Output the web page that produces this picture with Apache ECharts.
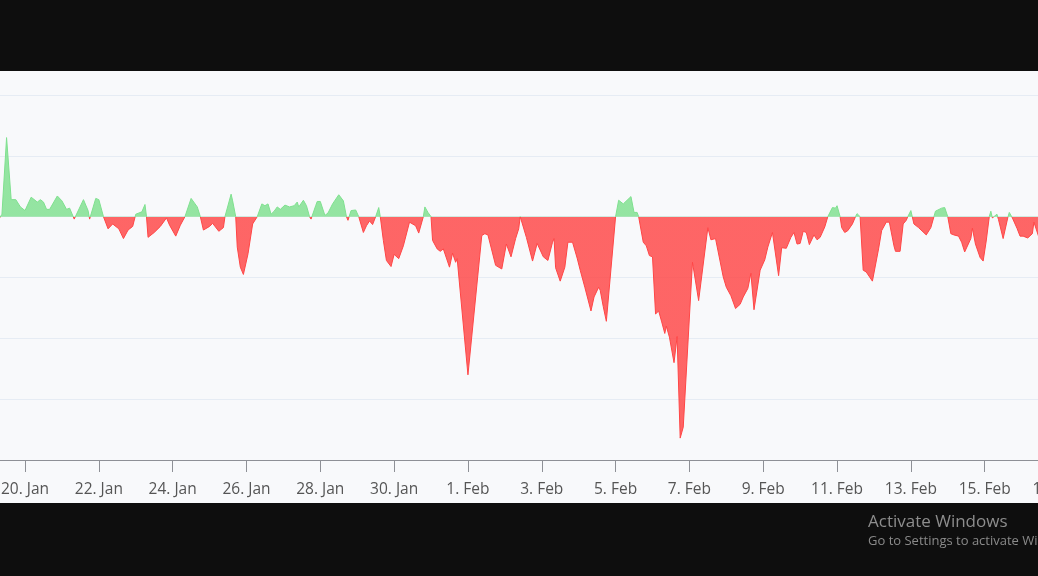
<!DOCTYPE html>
<html>
<head>
<meta charset="utf-8">
<script src="https://cdn.jsdelivr.net/npm/echarts@6/dist/echarts.min.js"></script>
<style>
html,body{margin:0;padding:0;background:#0e0e0e;}
#c{width:1038px;height:576px;}
</style>
</head>
<body>
<div id="c"></div>
<script>
const YEAR = 2024;
const MONTHS = ['Jan','Feb','Mar','Apr','May','Jun','Jul','Aug','Sep','Oct','Nov','Dec'];

const times = [
'01-19 07:00','01-19 09:00','01-19 12:00','01-19 15:00','01-19 18:00','01-19 21:00',
'01-20 00:00','01-20 04:00','01-20 08:00','01-20 10:00','01-20 12:00','01-20 14:00','01-20 16:00','01-20 21:00',
'01-21 00:00','01-21 03:00','01-21 05:00','01-21 08:00','01-21 14:00','01-21 17:00','01-21 18:00','01-21 22:00',
'01-22 00:00','01-22 03:00','01-22 06:00','01-22 09:00','01-22 13:00','01-22 16:00','01-22 19:00','01-22 22:00',
'01-23 00:00','01-23 04:00','01-23 06:00','01-23 07:00','01-23 08:00','01-23 12:00','01-23 16:00','01-23 20:00','01-23 22:00',
'01-24 02:00','01-24 05:00','01-24 08:00','01-24 12:00','01-24 16:00','01-24 18:00','01-24 20:00',
'01-25 00:00','01-25 02:00','01-25 06:00','01-25 09:00','01-25 10:00','01-25 14:00','01-25 15:00','01-25 17:00','01-25 18:00','01-25 20:00','01-25 22:00',
'01-26 01:00','01-26 04:00','01-26 07:00','01-26 10:00','01-26 12:00','01-26 14:00','01-26 16:00','01-26 18:00','01-26 20:00','01-26 22:00',
'01-27 01:00','01-27 04:00','01-27 07:00','01-27 09:00','01-27 10:00','01-27 13:00','01-27 15:00','01-27 17:00','01-27 18:00','01-27 21:00','01-27 22:00',
'01-28 00:00','01-28 03:00','01-28 05:00','01-28 08:00','01-28 12:00','01-28 15:00','01-28 17:00','01-28 18:00','01-28 20:00','01-28 23:00',
'01-29 01:00','01-29 04:00','01-29 06:00','01-29 08:00','01-29 10:00','01-29 12:00','01-29 14:00','01-29 15:00','01-29 17:00','01-29 19:00','01-29 22:00',
'01-30 00:00','01-30 03:00','01-30 06:00','01-30 10:00','01-30 14:00','01-30 16:00','01-30 19:00','01-30 20:00','01-30 22:00',
'01-31 00:00','01-31 01:00','01-31 04:00','01-31 06:00','01-31 08:00','01-31 10:00','01-31 12:00','01-31 14:00','01-31 16:00','01-31 17:00','01-31 18:00',
'02-01 00:00','02-01 09:00','02-01 11:00','02-01 13:00','02-01 18:00','02-01 19:00','02-01 22:00',
'02-02 01:00','02-02 02:00','02-02 04:00','02-02 07:00','02-02 09:00','02-02 10:00','02-02 11:00','02-02 14:00','02-02 18:00','02-02 21:00',
'02-03 01:00','02-03 04:00','02-03 07:00','02-03 08:00','02-03 09:00','02-03 12:00','02-03 15:00','02-03 17:00','02-03 20:00','02-03 23:00',
'02-04 01:00','02-04 04:00','02-04 08:00','02-04 10:00','02-04 13:00','02-04 14:00','02-04 16:00','02-04 18:00',
'02-05 00:00','02-05 02:00','02-05 05:00','02-05 10:00','02-05 12:00','02-05 14:00','02-05 15:00','02-05 18:00','02-05 20:00','02-05 22:00',
'02-06 00:00','02-06 02:00','02-06 04:00','02-06 06:00','02-06 08:00','02-06 09:00','02-06 11:00','02-06 14:00','02-06 16:00','02-06 18:00','02-06 20:00',
'02-07 02:00','02-07 06:00','02-07 12:00','02-07 14:00','02-07 17:00','02-07 18:00','02-07 22:00',
'02-08 00:00','02-08 03:00','02-08 06:00','02-08 09:00','02-08 11:00','02-08 14:00','02-08 16:00','02-08 18:00','02-08 22:00',
'02-09 01:00','02-09 03:00','02-09 06:00','02-09 10:00','02-09 12:00','02-09 15:00','02-09 18:00','02-09 20:00','02-09 22:00',
'02-10 00:00','02-10 02:00','02-10 04:00','02-10 06:00','02-10 09:00','02-10 11:00','02-10 13:00','02-10 16:00','02-10 18:00','02-10 21:00','02-10 23:00',
'02-11 00:00','02-11 02:00','02-11 03:00','02-11 05:00','02-11 07:00','02-11 10:00','02-11 12:00','02-11 13:00','02-11 15:00','02-11 17:00','02-11 19:00','02-11 23:00',
'02-12 00:00','02-12 03:00','02-12 05:00','02-12 08:00','02-12 10:00','02-12 13:00','02-12 14:00','02-12 17:00','02-12 19:00','02-12 21:00','02-12 22:00',
'02-13 00:00','02-13 02:00','02-13 05:00','02-13 10:00','02-13 13:00','02-13 15:00','02-13 16:00','02-13 20:00','02-13 22:00',
'02-14 00:00','02-14 02:00','02-14 04:00','02-14 05:00','02-14 07:00','02-14 09:00','02-14 11:00','02-14 12:00','02-14 15:00','02-14 16:00','02-14 18:00','02-14 21:00','02-14 23:00',
'02-15 01:00','02-15 03:00','02-15 04:00','02-15 05:00','02-15 06:00','02-15 08:00','02-15 09:00','02-15 12:00','02-15 13:00','02-15 15:00','02-15 16:00','02-15 18:00','02-15 21:00','02-15 23:00',
'02-16 01:00','02-16 04:00','02-16 07:00','02-16 08:00','02-16 11:00'
];

const values = [
-2,2,65,14,14,8,
5,16,12,14,12,6,6,17,
13,6,7,-2,14,5,-2,15,
14,0,-10,-6,-10,-18,-11,-8,
2,4,10,0,-17,-13,-8,-1,-7,
-16,-7,0,15,8,0,-11,
-8,-5.5,-12,-9,0,18.5,13,0,-25,-41.5,-47.5,
-30.5,-6,0,10.5,9,10.5,2,4.5,8,6,
9.5,8,9,12,8,13.5,9,0,-2,9,12.5,
12.5,1,3,10.5,18,13,0,-3,5,5.5,
0,-13,-7.5,-3.5,-6.5,0,7.5,0,-19.5,-36,-41,
-31,-34.5,-24,-4.5,-7.5,-13.5,0,8,3.5,
0,-19.5,-26.5,-28.5,-26.5,-34,-41.5,-30,-37.5,-34.5,-36,
-130,-15.5,-14,-15,-40,-39,-43,
-22.5,-21,-33,-18,-10,0,-1,-17,-36.5,-22,
-33,-36,-21,-18,-42,-53,-41.5,-21,-21,-34,
-44,-58,-77.5,-66,-58,-60.5,-74,-86,
0,13.5,10.5,16.5,3.5,3.5,0,-21,-24,-32,
-33,-80,-77.5,-86.5,-96,-90,-99,-120,-98.5,-182,-173,
-37.5,-69,-9,-19,-18,-19.5,-49.5,
-58,-65,-75.5,-72,-66,-59,-46.5,-76.5,-44,
-35.5,-25,-13,-48.5,-25.5,-26,-17,-13,-22.5,
-22,-12,-13,-23,-15,-19,-17,-8.5,0,7.5,7,
9,0,-9,-13,-11.5,-6,0,2.5,0,-44,-45.5,-53,
-52,-26.5,-11.5,-4.5,-4.5,-24,-28.5,-28.5,-6,-3,0,
5,-6,-9,-15,-9,0,4.5,7,7.5,
0,-14,-15,-14,-16,-21,-29,-28.5,-18,-9.5,-22.5,-33.5,-36.5,
-20,0,4.5,-1,-1,2,-2.5,-18,-19,-1,3.5,-1,-9.5,-16,
-16,-17.5,-14,-4.5,-16
];

const xRange = ['01-18 00:00', '02-17 00:00'];
const yTicks = { min: -200, max: 100, step: 50 };

function toMs(s) {
  const [md, hm] = s.split(' ');
  const [m, d] = md.split('-').map(Number);
  const [h, mi] = hm.split(':').map(Number);
  return Date.UTC(YEAR, m - 1, d, h, mi);
}

const seriesData = times.map((t, i) => [toMs(t), values[i]]);

const chart = echarts.init(document.getElementById('c'), null, { renderer: 'canvas' });
chart.setOption({
  backgroundColor: '#0e0e0e',
  animation: false,
  graphic: [
    { type: 'rect', z: -100, silent: true, shape: { x: 0, y: 71, width: 1038, height: 432 }, style: { fill: '#f8f9fb' } },
    { type: 'text', silent: true, left: 868, top: 514, style: { text: 'Activate Windows', fill: '#8d8d8d', font: '17px "Open Sans", "Noto Sans", sans-serif' } },
    { type: 'text', silent: true, left: 868, top: 535, style: { text: 'Go to Settings to activate Windows.', fill: '#8a8a8a', font: '13px "Open Sans", "Noto Sans", sans-serif' } }
  ],
  grid: { left: -48.8, right: -20.5, top: 95, bottom: 116, containLabel: false, outerBoundsMode: 'none' },
  xAxis: {
    type: 'value',
    min: toMs(xRange[0]),
    max: toMs(xRange[1]),
    interval: 2 * 86400000,
    axisLine: { show: true, onZero: false, lineStyle: { color: '#8e9096', width: 1 } },
    axisTick: { show: true, length: 12, lineStyle: { color: '#8e9096', width: 1 } },
    splitLine: { show: false },
    axisLabel: {
      show: true, margin: 22, color: '#555555', fontSize: 15.5,
      fontFamily: '"Open Sans", "Noto Sans", sans-serif',
      showMinLabel: true, showMaxLabel: true, hideOverlap: false,
      formatter: v => { const d = new Date(v); return d.getUTCDate() + '. ' + MONTHS[d.getUTCMonth()]; }
    }
  },
  yAxis: {
    type: 'value', min: yTicks.min, max: yTicks.max, interval: yTicks.step,
    axisLine: { show: false }, axisTick: { show: false }, axisLabel: { show: false },
    splitLine: { show: true, lineStyle: { color: '#e6ecf4', width: 1 } }
  },
  visualMap: {
    type: 'piecewise', show: false, dimension: 1, seriesIndex: 0,
    pieces: [ { gt: 0, lte: 1000, color: '#7ee08e' }, { gte: -1000, lte: 0, color: '#ff4545' } ],
    outOfRange: { color: '#ff4545' }
  },
  series: [{
    type: 'line',
    data: seriesData,
    showSymbol: false,
    smooth: false,
    lineStyle: { width: 1 },
    areaStyle: { opacity: 0.82 }
  }]
});
</script>
</body>
</html>
